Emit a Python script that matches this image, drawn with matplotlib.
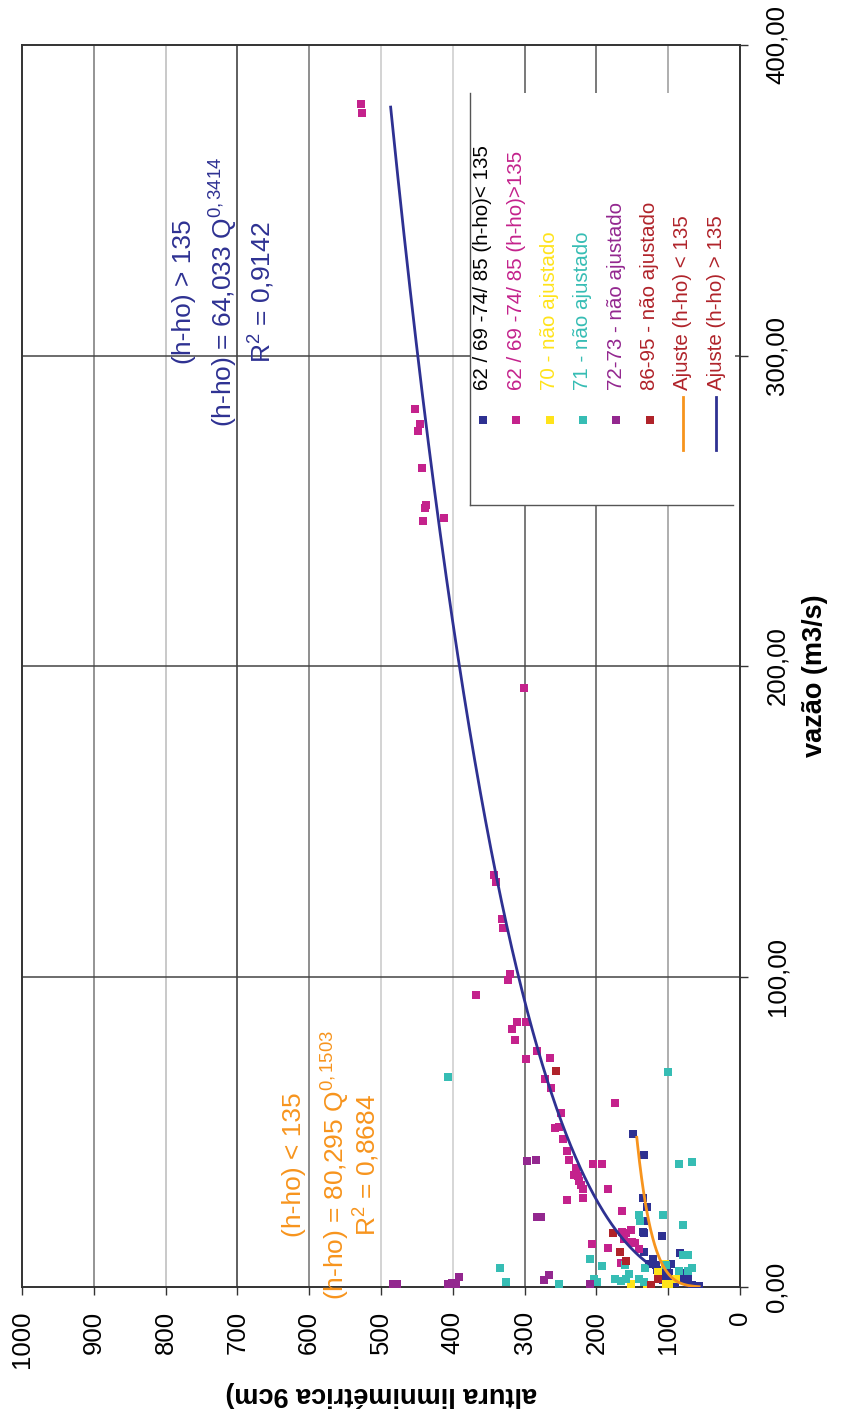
import numpy as np
import matplotlib.pyplot as plt
from matplotlib.patches import Rectangle

plt.rcParams['font.family'] = ['Liberation Sans', 'DejaVu Sans']
plt.rcParams['mathtext.fontset'] = 'custom'
plt.rcParams['mathtext.rm'] = 'Liberation Sans'
plt.rcParams['mathtext.it'] = 'Liberation Sans:italic'

# altura (h-ho, cm) e vazao (m3/s) por serie
h_62_lt = [148.6, 134.1, 135.5, 129.9, 134.1, 134.7, 133.3, 108.6, 133.3, 121.6, 127.2, 117.0,
           115.2, 109.1, 105.8, 107.7, 96.5, 102.1, 99.3, 83.6, 75.6, 72.0, 78.4, 72.8, 66.4,
           56.7, 94.3, 90.9, 98.9, 74.2]
q_62_lt = [49.3, 42.5, 28.6, 25.9, 21.4, 17.8, 17.3, 16.3, 11.3, 9.1, 7.3, 7.0,
           5.5, 4.8, 3.0, 2.3, 7.3, 5.2, 4.4, 10.9, 4.4, 3.5, 2.5, 1.2, 0.7,
           0.4, 2.3, 1.2, 3.5, 3.2]

h_62_gt = [528, 526, 452, 445.7, 449, 443, 437, 438.7, 441, 411.8, 300.8, 342.6, 339.4, 331,
           329.7, 320.3, 323.5, 368, 310.1, 298.5, 318, 313.4, 283.2, 264.6, 297.6, 272, 263.7,
           249.7, 257.2, 251.7, 246, 241.4, 238.6, 228.8, 231.2, 226, 224.2, 221.9, 219, 240.5,
           219, 205, 192.6, 174.4, 183.4, 164.8, 206.5, 183.8, 164.3, 158.8, 151.4, 161.6,
           150.4, 145.8, 141.1, 165.7]
q_62_gt = [381, 378, 282.7, 277.8, 275.8, 263.8, 251.7, 250.8, 246.7, 247.8, 192.9, 132.7, 130.5,
           118.6, 115.5, 100.7, 98.9, 94.1, 85.4, 85.4, 83.2, 79.4, 76, 73.9, 73.5, 66.9, 64.2,
           56.1, 51.2, 51.4, 47.7, 43.8, 40.9, 38.4, 36.2, 35.7, 34.1, 32.9, 31.5, 28.1,
           28.6, 39.5, 39.5, 59.3, 31.5, 24.4, 13.8, 12.7, 17.8, 17.5, 18.4, 15.4,
           14.4, 14.1, 12.2, 7.6]

h_70 = [151.8, 113.8, 103.5, 98.5, 89.1, 129.1, 104]
q_70 = [1.0, 4.8, 1.0, 1.0, 2.5, 0.6, 7.5]

h_71 = [407, 100.7, 84.5, 67.3, 334, 325.5, 251.7, 209, 191.8, 203.8, 199.2, 140.2, 138.9,
        106.8, 79.8, 79.8, 72, 85.4, 72, 67.3, 155, 174.1, 165.7, 159.2, 141.1, 133.3,
        132.3, 103.5, 159.7]
q_71 = [67.7, 69.3, 39.5, 40.3, 6.2, 1.5, 1.1, 8.9, 6.7, 2.6, 1.5, 23.2, 21.4,
        23.2, 19.9, 10.3, 10.3, 5.2, 5.2, 6.0, 4.2, 2.5, 1.8, 2.6, 2.6, 1.6,
        6.2, 7.1, 7.2]

h_72 = [297, 284.5, 283.2, 277.6, 273, 265.6, 406, 401.5, 395.5, 391.4, 483, 478, 209]
q_72 = [40.6, 40.8, 22.6, 22.6, 2.3, 3.8, 0.9, 1.4, 0.9, 3.2, 0.9, 0.9, 1.0]

h_86 = [255.8, 176.5, 167.6, 159.2, 124.4, 114.6]
q_86 = [69.7, 17.5, 11.4, 8.5, 0.6, 2.5]

# ajustes potenciais (h-ho) = a Q^b, com o intervalo de Q de cada curva
fit_lt = (80.295, 0.1503, 0.1, 48.2)
fit_gt = (64.033, 0.3414, 7.3, 380.0)

navy = '#2E3192'
magenta = '#C4228C'
yellow = '#FFE31A'
teal = '#36BDB4'
purple = '#93278F'
darkred = '#B0232A'
orange = '#F7941D'

W, H = 843, 1418
fig = plt.figure(figsize=(W / 100, H / 100), dpi=100)
ax = fig.add_axes([22 / W, 1 - 1287 / H, (740 - 22) / W, (1287 - 45) / H])

# grade
v_grid = {100: '#999999', 200: '#555555', 300: '#555555', 400: '#cccccc', 500: '#c8c8c8',
          600: '#707070', 700: '#333333', 800: '#bbbbbb', 900: '#777777'}
for hv, c in v_grid.items():
    ax.axvline(hv, color=c, lw=1.1, zorder=0)
for qv in [100, 200, 300]:
    ax.axhline(qv, color='#444444', lw=1.1, zorder=0)

ms = 26
series = [(h_62_lt, q_62_lt, navy), (h_62_gt, q_62_gt, magenta), (h_70, q_70, yellow),
          (h_71, q_71, teal), (h_72, q_72, purple), (h_86, q_86, darkred)]
for hs, qs, c in series:
    ax.scatter(hs, qs, s=ms, marker='s', color=c, linewidths=0, zorder=3)

for (a, b, q0, q1), c in [(fit_lt, orange), (fit_gt, navy)]:
    qq = np.linspace(q0, q1, 400)
    ax.plot(a * qq ** b, qq, color=c, lw=2, zorder=4)

ax.set_xlim(1000, 0)
ax.set_ylim(0, 400)
ax.set_xticks(np.arange(0, 1001, 100))
ax.set_xticklabels([str(v) for v in range(0, 1001, 100)])
ax.yaxis.tick_right()
ax.set_yticks([0, 100, 200, 300, 400])
ax.set_yticklabels(['0,00', '100,00', '200,00', '300,00', '400,00'])
ax.tick_params(axis='x', direction='out', length=6, width=1, labelsize=18.5, pad=11,
               labelrotation=90, color='#333333')
ax.tick_params(axis='y', direction='out', length=6, width=1, labelsize=18.5, pad=12,
               labelrotation=90, color='#333333')
for lbl in ax.get_yticklabels():
    lbl.set_va('center')
for sp in ax.spines.values():
    sp.set_color('#333333')
    sp.set_linewidth(1.4)

# equacoes dos ajustes
ax.text(774, 320.5, '(h-ho) > 135', rotation=90, color=navy, fontsize=19, ha='center', va='center')
ax.text(719, 320.5, r'(h-ho) = 64,033 Q$\mathregular{^{0,3414}}$', rotation=90, color=navy,
        fontsize=19, ha='center', va='center')
ax.text(666, 320.5, r'R$\mathregular{^2}$ = 0,9142', rotation=90, color=navy, fontsize=19,
        ha='center', va='center')
ax.text(621, 39.3, '(h-ho) < 135', rotation=90, color=orange, fontsize=19, ha='center', va='center')
ax.text(563, 39.3, r'(h-ho) = 80,295 Q$\mathregular{^{0,1503}}$', rotation=90, color=orange,
        fontsize=19, ha='center', va='center')
ax.text(519, 39.3, r'R$\mathregular{^2}$ = 0,8684', rotation=90, color=orange, fontsize=19,
        ha='center', va='center')

# camada em pixels para legenda e titulos dos eixos
ov = fig.add_axes([0, 0, 1, 1], facecolor='none')
ov.set_xlim(0, W)
ov.set_ylim(H, 0)
ov.axis('off')

ov.add_patch(Rectangle((470, 93), 265, 412, facecolor='white', edgecolor='none'))
ov.plot([470, 470], [93, 505], color='#555555', lw=1)
ov.plot([470, 733], [505, 505], color='#555555', lw=1)

legend_items = [
    ('62 / 69 -74/ 85 (h-ho)< 135', navy, 'black', 'm'),
    ('62 / 69 -74/ 85 (h-ho)>135', magenta, magenta, 'm'),
    ('70 - não ajustado', yellow, yellow, 'm'),
    ('71 - não ajustado', teal, teal, 'm'),
    ('72-73 - não ajustado', purple, purple, 'm'),
    ('86-95 - não ajustado', darkred, darkred, 'm'),
    ('Ajuste (h-ho) < 135', orange, darkred, 'l'),
    ('Ajuste (h-ho) > 135', navy, darkred, 'l'),
]
for i, (lab, mc, tc, kind) in enumerate(legend_items):
    x = 483 + i * 33.3
    if kind == 'm':
        ov.scatter([x], [420], s=ms, marker='s', color=mc, linewidths=0)
    else:
        ov.plot([x, x], [397, 450], color=mc, lw=2)
    ov.text(x, 390, lab, rotation=90, color=tc, fontsize=14.8, ha='center', va='bottom')

ov.text(815, 676, 'vazão (m3/s)', rotation=90, fontsize=19.5, fontweight='bold',
        ha='center', va='center')
ov.text(381, 1394, 'altura limnimétrica 9cm)', rotation=180, fontsize=19.5, fontweight='bold',
        ha='center', va='center')

fig.savefig('out.png', dpi=100)
